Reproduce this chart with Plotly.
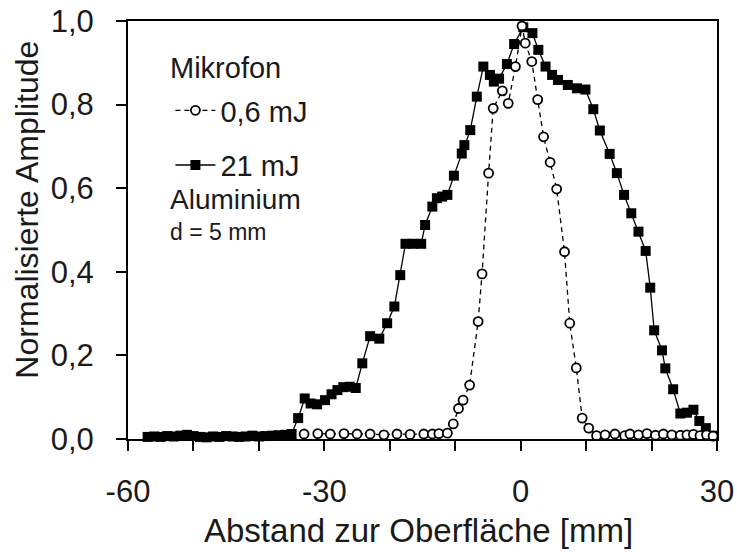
import plotly.graph_objects as go

# Probe position [mm] and normalised amplitude, 21 mJ pulse energy
pos_21 = [-57, -56, -55, -54, -53, -52, -51, -50, -49, -48, -47, -46, -45, -44,
          -43, -42, -41, -40, -39, -38, -37, -36, -35,
          -34.0, -33.0, -32.1, -31.1, -29.9, -28.9, -28.0, -27.1, -26.1, -25.2,
          -24.2, -23.0, -21.6, -20.4, -19.3, -18.4, -17.6, -16.4, -15.2, -14.6,
          -13.5, -12.8, -12.0, -11.2, -10.2, -9.0, -8.6, -7.7, -6.7, -5.7, -4.7,
          -4.1, -3.3, -2.1, -1.0, 0.4, 1.8, 2.7, 3.8, 4.8, 5.7, 7.2, 8.6, 9.9,
          11.1, 12.1, 13.6, 14.7, 15.8, 16.9, 18.0, 19.1, 19.8, 20.4, 21.6, 22.1,
          23.3, 24.4, 25.4, 26.4, 27.3, 28.3, 29.5]
amp_21 = [0.005, 0.006, 0.005, 0.007, 0.006, 0.008, 0.010, 0.007, 0.005, 0.004,
          0.006, 0.005, 0.007, 0.006, 0.005, 0.006, 0.008, 0.006, 0.007, 0.008,
          0.009, 0.010, 0.012,
          0.050, 0.097, 0.085, 0.083, 0.093, 0.107, 0.117, 0.124, 0.125, 0.122,
          0.181, 0.246, 0.240, 0.277, 0.317, 0.392, 0.467, 0.467, 0.467, 0.512,
          0.556, 0.576, 0.580, 0.584, 0.630, 0.683, 0.703, 0.739, 0.819, 0.891,
          0.871, 0.855, 0.862, 0.897, 0.945, 0.985, 0.971, 0.931, 0.891, 0.871,
          0.859, 0.847, 0.839, 0.836, 0.789, 0.738, 0.682, 0.636, 0.584, 0.540,
          0.496, 0.450, 0.362, 0.260, 0.212, 0.169, 0.119, 0.061, 0.063, 0.070,
          0.043, 0.026, 0.008]

# Probe position [mm] and normalised amplitude, 0,6 mJ pulse energy
pos_06 = [-33.1, -31.0, -29.1, -27.0, -25.0, -23.0, -20.9, -18.9, -16.9, -14.8,
          -13.5, -12.5, -11.2, -10.3, -9.5, -8.8, -7.8, -6.5, -5.9, -4.9, -4.2,
          -2.8, -1.9, -0.8, 0.2, 0.7, 1.7, 2.6, 3.5, 4.5, 5.5, 6.7, 7.5, 8.5,
          9.4, 10.4, 11.6, 12.9, 14.4, 15.9, 16.7, 18.0, 19.3, 20.6, 21.8, 23.1,
          24.4, 25.4, 26.4, 27.4, 28.4, 29.4]
amp_06 = [0.012, 0.013, 0.012, 0.013, 0.012, 0.012, 0.010, 0.012, 0.011, 0.012,
          0.012, 0.013, 0.014, 0.036, 0.073, 0.093, 0.129, 0.281, 0.395, 0.636,
          0.791, 0.833, 0.803, 0.891, 0.988, 0.947, 0.903, 0.812, 0.723, 0.662,
          0.598, 0.448, 0.277, 0.170, 0.050, 0.026, 0.008, 0.010, 0.012, 0.008,
          0.012, 0.010, 0.013, 0.009, 0.012, 0.010, 0.009, 0.010, 0.011, 0.008,
          0.010, 0.007]

x_tick_vals = [-60, -50, -40, -30, -20, -10, 0, 10, 20, 30]
x_tick_text = ["-60", "", "", "-30", "", "", "0", "", "", "30"]
y_tick_vals = [0.0, 0.2, 0.4, 0.6, 0.8, 1.0]

FONT = "Liberation Sans, Arial, Helvetica, sans-serif"
INK = "#1a1a1a"

fig = go.Figure()

fig.add_trace(go.Scatter(
    x=pos_21, y=amp_21, mode="lines+markers", name="21 mJ",
    line=dict(color="black", width=1.3),
    marker=dict(symbol="square", size=10, color="black"),
    cliponaxis=False, legendrank=2, legendgroup="a",
))
fig.add_trace(go.Scatter(
    x=pos_06, y=amp_06, mode="lines+markers", name="0,6 mJ",
    line=dict(color="black", width=1.3, dash="5px,4px"),
    marker=dict(symbol="circle", size=9, color="white",
                line=dict(color="black", width=1.8)),
    cliponaxis=False, legendrank=1, legendgroup="b",
))

axis_common = dict(
    showline=True, linecolor="black", linewidth=2, mirror=True,
    ticks="outside", ticklen=10, tickwidth=2, tickcolor="black",
    showgrid=False, zeroline=False, automargin=False,
    tickfont=dict(family=FONT, size=31, color=INK),
)

fig.update_xaxes(range=[-60, 30], tickvals=x_tick_vals, ticktext=x_tick_text,
                 ticklabelstandoff=14, **axis_common)
fig.update_yaxes(range=[0, 1], tickvals=y_tick_vals, tickformat=".1f",
                 ticklabelstandoff=16, **axis_common)

fig.update_layout(
    template="none",
    width=737, height=552, autosize=False,
    margin=dict(l=128, r=20, t=21, b=113),
    paper_bgcolor="white", plot_bgcolor="white",
    separators=",.",
    font=dict(family=FONT, color=INK),
    showlegend=True,
    legend=dict(
        x=0.072, y=0.847, xanchor="left", yanchor="top",
        bgcolor="rgba(0,0,0,0)",
        font=dict(family=FONT, size=29, color=INK),
        tracegroupgap=14, itemwidth=40,
    ),
    annotations=[
        dict(text="Mikrofon", xref="paper", yref="paper",
             x=0.068, y=0.888, xanchor="left", yanchor="middle",
             showarrow=False, font=dict(family=FONT, size=29, color=INK)),
        dict(text="Abstand zur Oberfläche [mm]", xref="paper", yref="paper",
             x=0.493, y=-0.22, xanchor="center", yanchor="middle",
             showarrow=False, font=dict(family=FONT, size=33, color=INK)),
        dict(text="Normalisierte Amplitude", xref="paper", yref="paper",
             x=-0.172, y=0.548, xanchor="center", yanchor="middle",
             textangle=-90, showarrow=False,
             font=dict(family=FONT, size=32, color=INK)),
        dict(text="Aluminium", xref="paper", yref="paper",
             x=0.068, y=0.572, xanchor="left", yanchor="middle",
             showarrow=False, font=dict(family=FONT, size=28, color=INK)),
        dict(text="d = 5 mm", xref="paper", yref="paper",
             x=0.068, y=0.495, xanchor="left", yanchor="middle",
             showarrow=False, font=dict(family=FONT, size=23, color=INK)),
    ],
)

fig.write_html("out.html")
